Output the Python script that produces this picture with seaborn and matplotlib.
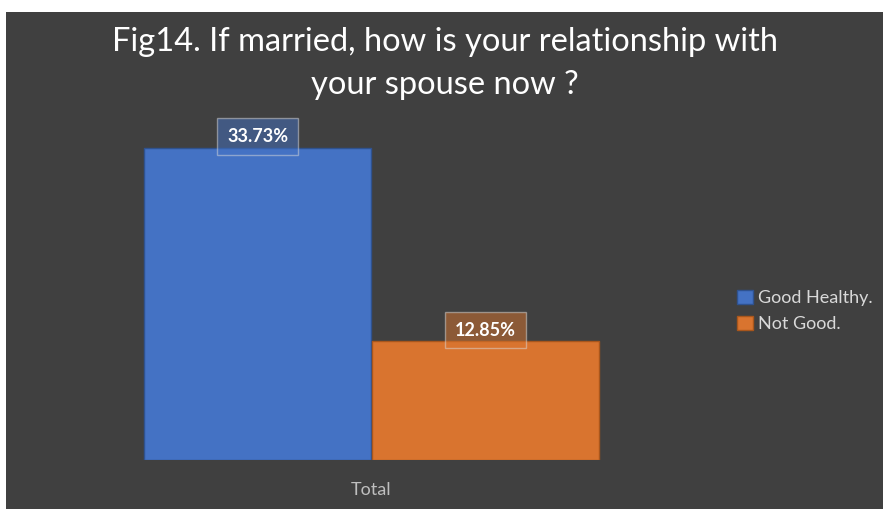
import matplotlib.pyplot as plt
import pandas as pd
import seaborn as sns
from matplotlib.patches import Rectangle

# chart data
categories = ["Total", "Total"]
answers = ["Good Healthy.", "Not Good."]
shares = [33.73, 12.85]
bar_colors = ["#4472C4", "#D9742F"]
edge_colors = ["#2F528F", "#A9561C"]

df = pd.DataFrame({"group": categories, "answer": answers, "share": shares})

sns.set_theme(style="white")
plt.rcParams["font.family"] = ["Lato", "DejaVu Sans"]

W, H = 883, 509
fig = plt.figure(figsize=(W / 100, H / 100), dpi=100)
fig.patch.set_facecolor("white")
fig.add_artist(Rectangle((6 / W, 0), 1, (H - 12) / H, transform=fig.transFigure,
                         facecolor="#404040", edgecolor="none", zorder=0))

ax = fig.add_axes([30 / W, 49 / H, 683 / W, 370 / H])
ax.set_facecolor("none")
sns.barplot(data=df, x="group", y="share", hue="answer", palette=bar_colors,
            saturation=1, width=0.8, ax=ax, legend=True)

for patch, ec in zip(ax.patches[:2], edge_colors):
    patch.set_edgecolor(ec)
    patch.set_linewidth(1)

ax.set_xlim(-0.6, 0.6)
ax.set_ylim(0, 40)
ax.set_xlabel("")
ax.set_ylabel("")
ax.set_yticks([])
ax.tick_params(axis="x", length=0, pad=16, labelsize=13, labelcolor="#BFBFBF")
sns.despine(ax=ax, left=True, bottom=True)

# data labels
for patch, val, col in zip(ax.patches[:2], shares, bar_colors):
    cx = patch.get_x() + patch.get_width() / 2
    ax.annotate(f"{val:.2f}%", (cx, val), xytext=(0, 8), textcoords="offset points",
                ha="center", va="center", color="white", fontsize=13, fontweight="bold",
                bbox=dict(boxstyle="square,pad=0.55", facecolor=col, alpha=0.5,
                          edgecolor="#D9D9D9", linewidth=1))

handles, labels = ax.get_legend_handles_labels()
for h, ec in zip(handles, edge_colors):
    h.set_edgecolor(ec)
ax.legend(handles[:2], labels[:2], loc="center left",
          bbox_to_anchor=(721 / W, (H - 311) / H), bbox_transform=fig.transFigure,
          frameon=False, fontsize=13, labelcolor="#D9D9D9",
          handlelength=0.85, handleheight=0.85, handletextpad=0.3, labelspacing=0.55)

fig.text(445 / W, (H - 42) / H, "Fig14. If married, how is your relationship with",
         ha="center", va="center", color="white", fontsize=23.5)
fig.text(445 / W, (H - 85) / H, "your spouse now ?",
         ha="center", va="center", color="white", fontsize=23.5)

fig.savefig("out.png", dpi=100, facecolor=fig.get_facecolor())
